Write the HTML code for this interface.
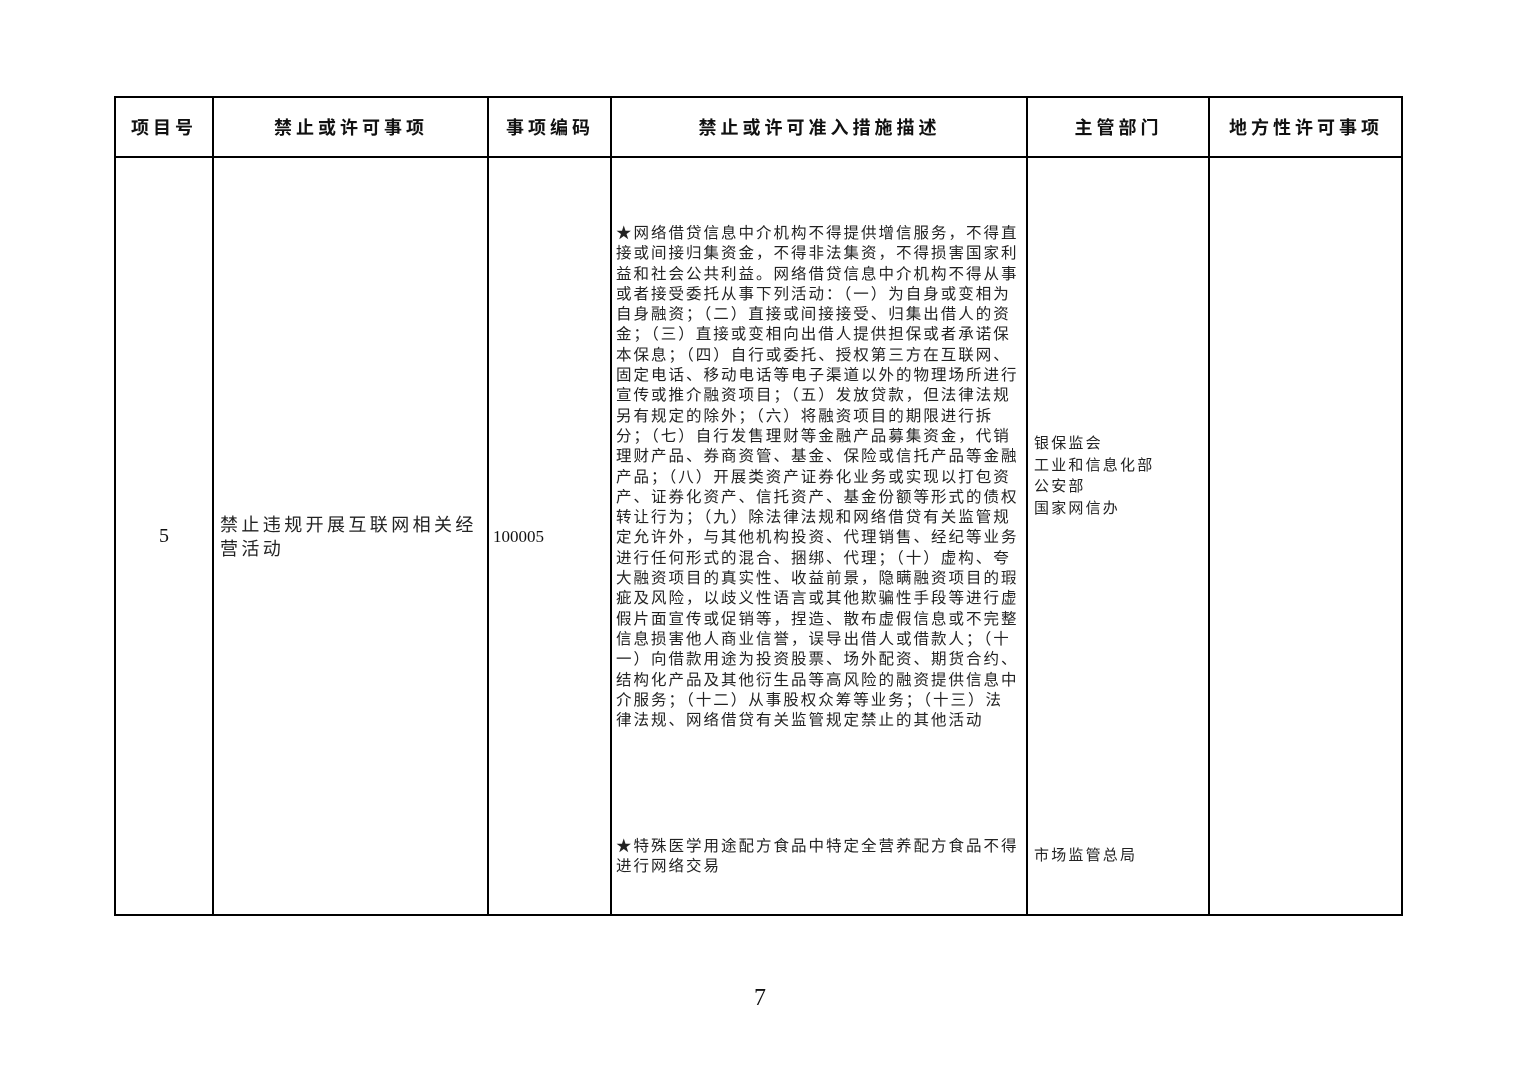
<!DOCTYPE html>
<html><head><meta charset="utf-8"><style>
body{margin:0;width:1520px;height:1074px;background:#fff;position:relative;font-family:"Liberation Serif","Noto Serif CJK SC","Noto Sans CJK SC",serif;color:#111;overflow:hidden}
.l{position:absolute;background:#000}
.t{position:absolute;white-space:pre}
.h{font-family:"Noto Sans CJK SC",sans-serif;font-weight:bold;font-size:18px;letter-spacing:4px;top:114px;line-height:26px;text-align:center}
.d{font-family:"Liberation Serif","Noto Sans CJK SC",sans-serif;font-size:15.5px;letter-spacing:2px;line-height:20.3px;left:616px;top:224px;color:#222}
.p{font-family:"Liberation Serif","Noto Sans CJK SC",sans-serif;font-size:15px;letter-spacing:2.2px;line-height:21.7px;left:1034px;color:#222}
</style></head><body>
<div class="l" style="left:114px;top:96px;width:1289px;height:2px"></div>
<div class="l" style="left:114px;top:156px;width:1289px;height:2px"></div>
<div class="l" style="left:114px;top:914px;width:1289px;height:2px"></div>
<div class="l" style="left:114px;top:96px;width:2px;height:820px"></div>
<div class="l" style="left:212px;top:96px;width:1.5px;height:820px"></div>
<div class="l" style="left:487px;top:96px;width:1.5px;height:820px"></div>
<div class="l" style="left:610px;top:96px;width:1.5px;height:820px"></div>
<div class="l" style="left:1026px;top:96px;width:1.5px;height:820px"></div>
<div class="l" style="left:1208px;top:96px;width:1.5px;height:820px"></div>
<div class="l" style="left:1401px;top:96px;width:2px;height:820px"></div>

<div class="t h" style="left:114px;width:100px">项目号</div>
<div class="t h" style="left:213px;width:276px">禁止或许可事项</div>
<div class="t h" style="left:488px;width:124px">事项编码</div>
<div class="t h" style="left:611px;width:417px">禁止或许可准入措施描述</div>
<div class="t h" style="left:1027px;width:183px">主管部门</div>
<div class="t h" style="left:1209px;width:194px">地方性许可事项</div>

<div class="t" style="left:114px;width:100px;text-align:center;top:523px;font-size:20px;line-height:26px">5</div>
<div class="t" style="left:220px;top:513px;font-family:'Liberation Serif','Noto Sans CJK SC',sans-serif;font-size:18px;letter-spacing:3.4px;line-height:24px;color:#222">禁止违规开展互联网相关经
营活动</div>
<div class="t" style="left:493px;top:526px;font-size:17px;line-height:22px">100005</div>

<div class="t d">★网络借贷信息中介机构不得提供增信服务，不得直
接或间接归集资金，不得非法集资，不得损害国家利
益和社会公共利益。网络借贷信息中介机构不得从事
或者接受委托从事下列活动：（一）为自身或变相为
自身融资；（二）直接或间接接受、归集出借人的资
金；（三）直接或变相向出借人提供担保或者承诺保
本保息；（四）自行或委托、授权第三方在互联网、
固定电话、移动电话等电子渠道以外的物理场所进行
宣传或推介融资项目；（五）发放贷款，但法律法规
另有规定的除外；（六）将融资项目的期限进行拆
分；（七）自行发售理财等金融产品募集资金，代销
理财产品、券商资管、基金、保险或信托产品等金融
产品；（八）开展类资产证券化业务或实现以打包资
产、证券化资产、信托资产、基金份额等形式的债权
转让行为；（九）除法律法规和网络借贷有关监管规
定允许外，与其他机构投资、代理销售、经纪等业务
进行任何形式的混合、捆绑、代理；（十）虚构、夸
大融资项目的真实性、收益前景，隐瞒融资项目的瑕
疵及风险，以歧义性语言或其他欺骗性手段等进行虚
假片面宣传或促销等，捏造、散布虚假信息或不完整
信息损害他人商业信誉，误导出借人或借款人；（十
一）向借款用途为投资股票、场外配资、期货合约、
结构化产品及其他衍生品等高风险的融资提供信息中
介服务；（十二）从事股权众筹等业务；（十三）法
律法规、网络借贷有关监管规定禁止的其他活动</div>
<div class="t d" style="top:837px;line-height:20px">★特殊医学用途配方食品中特定全营养配方食品不得
进行网络交易</div>

<div class="t p" style="top:434px">银保监会
工业和信息化部
公安部
国家网信办</div>
<div class="t p" style="top:846px">市场监管总局</div>

<div class="t" style="left:0;width:1520px;text-align:center;top:983px;font-size:24px;line-height:30px">7</div>
</body></html>
